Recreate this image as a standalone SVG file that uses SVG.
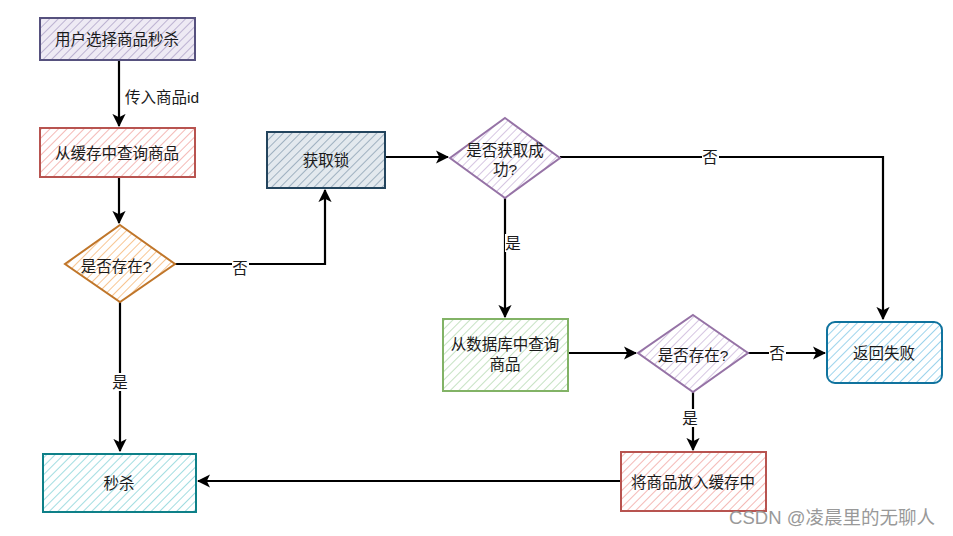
<svg xmlns="http://www.w3.org/2000/svg" width="953" height="536" viewBox="0 0 953 536">
<style>
text{font-family:"Liberation Sans","Noto Sans CJK SC",sans-serif;font-size:15.5px;fill:#1a1a1a;text-anchor:middle;dominant-baseline:central}
.c{fill:none;stroke:#000;stroke-width:2.2}
.bg{fill:#fff;stroke:none}
</style>
<defs>
<pattern id="hp" width="6" height="6" patternUnits="userSpaceOnUse" patternTransform="rotate(45)"><rect width="6" height="6" fill="#eeeaf4"/><line x1="0" y1="0" x2="0" y2="6" stroke="#bdb3d2" stroke-width="2"/></pattern>
<pattern id="hr" width="6" height="6" patternUnits="userSpaceOnUse" patternTransform="rotate(45)"><rect width="6" height="6" fill="#fff"/><line x1="0" y1="0" x2="0" y2="6" stroke="#f4b9b6" stroke-width="2"/></pattern>
<pattern id="ho" width="6" height="6" patternUnits="userSpaceOnUse" patternTransform="rotate(45)"><rect width="6" height="6" fill="#fff"/><line x1="0" y1="0" x2="0" y2="6" stroke="#f8c693" stroke-width="2"/></pattern>
<pattern id="hs" width="6" height="6" patternUnits="userSpaceOnUse" patternTransform="rotate(45)"><rect width="6" height="6" fill="#e3e9ee"/><line x1="0" y1="0" x2="0" y2="6" stroke="#9fb1c0" stroke-width="2"/></pattern>
<pattern id="hv" width="6" height="6" patternUnits="userSpaceOnUse" patternTransform="rotate(45)"><rect width="6" height="6" fill="#fff"/><line x1="0" y1="0" x2="0" y2="6" stroke="#d6c6e2" stroke-width="2"/></pattern>
<pattern id="hg" width="6" height="6" patternUnits="userSpaceOnUse" patternTransform="rotate(45)"><rect width="6" height="6" fill="#fff"/><line x1="0" y1="0" x2="0" y2="6" stroke="#c6e2c3" stroke-width="2"/></pattern>
<pattern id="hb" width="6" height="6" patternUnits="userSpaceOnUse" patternTransform="rotate(45)"><rect width="6" height="6" fill="#fff"/><line x1="0" y1="0" x2="0" y2="6" stroke="#9dd4ec" stroke-width="2"/></pattern>
<pattern id="ht" width="6" height="6" patternUnits="userSpaceOnUse" patternTransform="rotate(45)"><rect width="6" height="6" fill="#fff"/><line x1="0" y1="0" x2="0" y2="6" stroke="#a2dde1" stroke-width="2"/></pattern>
<marker id="ar" viewBox="0 0 12 12" refX="11" refY="6" markerWidth="6" markerHeight="6" orient="auto" markerUnits="strokeWidth"><path d="M0,0 L12,6 L0,12 L3,6 Z" fill="#000"/></marker>
</defs>
<rect width="953" height="536" fill="#fff"/>
<g id="connectors">
<path class="c" d="M119,60 V126" marker-end="url(#ar)"/>
<rect class="bg" x="121" y="88" width="82" height="18"/>
<text x="162" y="97">传入商品id</text>
<path class="c" d="M119,177 V223" marker-end="url(#ar)"/>
<path class="c" d="M175,264 H325 V190" marker-end="url(#ar)"/>
<rect class="bg" x="232" y="259" width="17" height="18"/>
<text x="240" y="268">否</text>
<path class="c" d="M120,302 V451" marker-end="url(#ar)"/>
<rect class="bg" x="112" y="373" width="17" height="18"/>
<text x="120" y="382">是</text>
<path class="c" d="M385,157 H448" marker-end="url(#ar)"/>
<path class="c" d="M560,157 H883 V319" marker-end="url(#ar)"/>
<rect class="bg" x="702" y="148" width="17" height="18"/>
<text x="710" y="157">否</text>
<path class="c" d="M505,198 V317" marker-end="url(#ar)"/>
<rect class="bg" x="505" y="234" width="17" height="18"/>
<text x="513" y="243">是</text>
<path class="c" d="M568,353 H636" marker-end="url(#ar)"/>
<path class="c" d="M748,353 H825" marker-end="url(#ar)"/>
<rect class="bg" x="769" y="344" width="17" height="18"/>
<text x="777" y="353">否</text>
<path class="c" d="M693,392 V450" marker-end="url(#ar)"/>
<rect class="bg" x="682" y="409" width="17" height="18"/>
<text x="690" y="418">是</text>
<path class="c" d="M621,481 H198" marker-end="url(#ar)"/>
</g>
<g id="n1">
<rect x="40" y="18" width="155" height="42" fill="url(#hp)" stroke="#56517e" stroke-width="2"/>
<text x="117" y="39">用户选择商品秒杀</text>
</g>
<g id="n2">
<rect x="40" y="128" width="155" height="49" fill="url(#hr)" stroke="#b85450" stroke-width="2"/>
<text x="117" y="153">从缓存中查询商品</text>
</g>
<g id="n3">
<path d="M120,225 L175,264 L120,302 L65,264 Z" fill="url(#ho)" stroke="#c0762a" stroke-width="2"/>
<text x="116" y="266">是否存在?</text>
</g>
<g id="n4">
<rect x="267" y="132" width="118" height="56" fill="url(#hs)" stroke="#23445d" stroke-width="2"/>
<text x="326" y="160">获取锁</text>
</g>
<g id="n5">
<path d="M505,118 L560,158 L505,198 L450,158 Z" fill="url(#hv)" stroke="#9673a6" stroke-width="2"/>
<text x="505" y="150">是否获取成</text>
<text x="505" y="169">功?</text>
</g>
<g id="n6">
<rect x="443" y="319" width="125" height="72" fill="url(#hg)" stroke="#82b366" stroke-width="2"/>
<text x="505" y="344">从数据库中查询</text>
<text x="505" y="364">商品</text>
</g>
<g id="n7">
<path d="M693,315 L748,353 L693,392 L638,353 Z" fill="url(#hv)" stroke="#9673a6" stroke-width="2"/>
<text x="693" y="355">是否存在?</text>
</g>
<g id="n8">
<rect x="827" y="322" width="115" height="61" rx="8" fill="url(#hb)" stroke="#10739e" stroke-width="2"/>
<text x="884" y="353">返回失败</text>
</g>
<g id="n9">
<rect x="621" y="452" width="145" height="59" fill="url(#hr)" stroke="#b85450" stroke-width="2"/>
<text x="693" y="482">将商品放入缓存中</text>
</g>
<g id="n10">
<rect x="43" y="454" width="153" height="58" fill="url(#ht)" stroke="#0e8088" stroke-width="2"/>
<text x="119" y="483">秒杀</text>
</g>
<text x="832" y="517" style="font-size:18.5px;fill:#999">CSDN @凌晨里的无聊人</text>
</svg>
